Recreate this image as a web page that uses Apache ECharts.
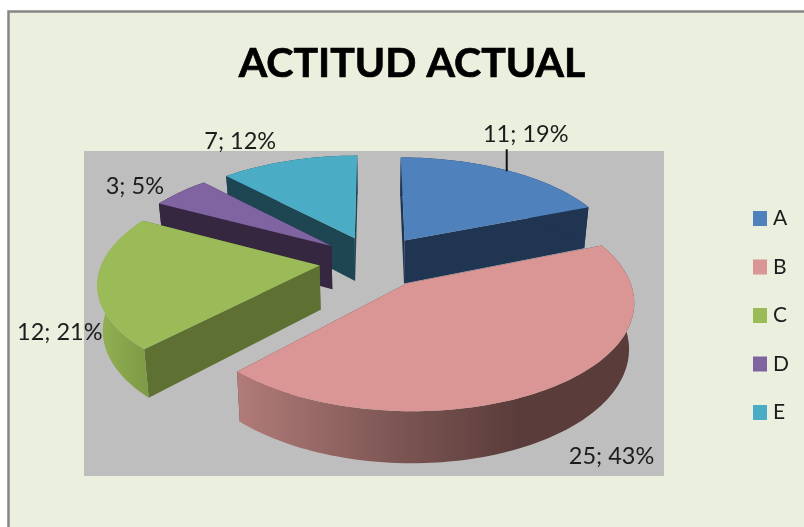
<!DOCTYPE html>
<html><head><meta charset="utf-8">
<style>html,body{margin:0;padding:0;background:#fff}#c{width:804px;height:527px}</style>
<script src="https://cdn.jsdelivr.net/npm/echarts@6/dist/echarts.min.js"></script>
</head><body><div id="c"></div>
<script>
const titleText = 'ACTITUD ACTUAL';
const categories = ['A','B','C','D','E'];
const values = [11,25,12,3,7];

const topColors  = ['#4F81BD','#D99694','#9BBB59','#8064A2','#4BACC6'];
const wallColors = ['#1F3552','#5A3C3B','#5F7033','#35273F','#1E4652'];
const labelOffsets = [[19,-36],[56,70],[-37.5,50],[-45,-6],[-48.5,-19]];
const view = {cx:374.5, cy:261.3, R:217, Q:101.3, persp:0.15, explode:0.255};

const total = values.reduce((a,b)=>a+b,0);
const rad = d => d*Math.PI/180;
function sliceAngles(i){
  let before = 0;
  for(let k=0;k<i;k++) before += values[k];
  return [before/total*360,(before+values[i])/total*360];
}
function project(deg,r,off){
  const X = r*Math.sin(rad(deg))+off[0], Y = -r*Math.cos(rad(deg))+off[1];
  const s = 1/(1-view.persp*Y);
  return {x:view.cx+view.R*X*s, y:view.cy+view.Q*Y*s, s};
}
const lower = p => [view.cx+(p.x-view.cx)*0.98, p.y+8+36*p.s];
const upper = p => [p.x,p.y];
function rimGradient(i){
  if(i===1) return new echarts.graphic.LinearGradient(234,0,520,0,[
    {offset:0,color:'#B27C7A'},{offset:0.58,color:'#7B5552'},{offset:1,color:'#5A3C3B'}],true);
  if(i===2) return new echarts.graphic.LinearGradient(96,0,148,0,[
    {offset:0,color:'#94B254'},{offset:1,color:'#7D9A45'}],true);
  return wallColors[i];
}
function renderSlice(i){
  return function(params,api){
    const value = api.value(0);
    const [a0,a1] = sliceAngles(i);
    const mid = (a0+a1)/2;
    const off = [view.explode*Math.sin(rad(mid)), -view.explode*Math.cos(rad(mid))];
    const apex = project(0,0,off);
    const arc = [];
    const n = Math.max(4,Math.ceil((a1-a0)/1.5));
    for(let k=0;k<=n;k++) arc.push(project(a0+(a1-a0)*k/n,1,off));
    const poly = (pts,fill)=>({type:'polygon',shape:{points:pts},style:{fill,stroke:null},silent:true});
    const wall = p => [upper(apex),upper(p),lower(p),lower(apex)];
    const children = [
      poly(wall(arc[0]),wallColors[i]),
      poly(wall(arc[n]),wallColors[i]),
      poly(arc.map(upper).concat(arc.slice().reverse().map(lower)),rimGradient(i)),
      poly([upper(apex)].concat(arc.map(upper)),topColors[i])
    ];
    const rimMid = project(mid,1,off);
    const lx = rimMid.x+labelOffsets[i][0], ly = rimMid.y+labelOffsets[i][1];
    if(i===0) children.push({type:'line',shape:{x1:rimMid.x,y1:rimMid.y+1,x2:rimMid.x,y2:ly+15},
      style:{stroke:'#111',lineWidth:2},silent:true});
    children.push({type:'text',silent:true,style:{
      text:value+'; '+Math.round(value/total*100)+'%',x:lx,y:ly,
      fill:'#1c1c1c',font:'23.5px Lato',textAlign:'center',textVerticalAlign:'middle'}});
    return {type:'group',children};
  };
}
function depthOf(i){
  const [a0,a1]=sliceAngles(i);
  return -Math.cos(rad((a0+a1)/2));
}
const order = categories.map((_,i)=>i).sort((a,b)=>depthOf(a)-depthOf(b));

const chart = echarts.init(document.getElementById('c'),null,{renderer:'canvas'});
chart.setOption({
  animation:false,
  backgroundColor:'#fff',
  title:{text:titleText,left:407,top:38,textAlign:'center',
    textStyle:{fontFamily:'Lato',fontWeight:'bold',fontSize:41,color:'#000',textBorderColor:'#000',textBorderWidth:0.7}},
  legend:{data:categories,orient:'vertical',left:748,top:203,icon:'rect',itemWidth:14,itemHeight:15,itemGap:27.5,
    selectedMode:false,textStyle:{fontFamily:'Lato',fontSize:21,color:'#1c1c1c',padding:[0,0,0,1]}},
  graphic:[
    {type:'rect',z:-10,shape:{x:8.5,y:11.5,width:820,height:540},style:{fill:'#EAEFDE',stroke:'#868686',lineWidth:2.5},silent:true},
    {type:'rect',z:-9,shape:{x:84,y:151,width:580,height:325},style:{fill:'#BEBEBE'},silent:true}
  ],
  series:categories.map((name,i)=>({
    type:'custom',name,coordinateSystem:'none',z:2+order.indexOf(i),
    itemStyle:{color:topColors[i]},
    data:[[values[i]]],
    renderItem:renderSlice(i)
  }))
});
</script></body></html>
